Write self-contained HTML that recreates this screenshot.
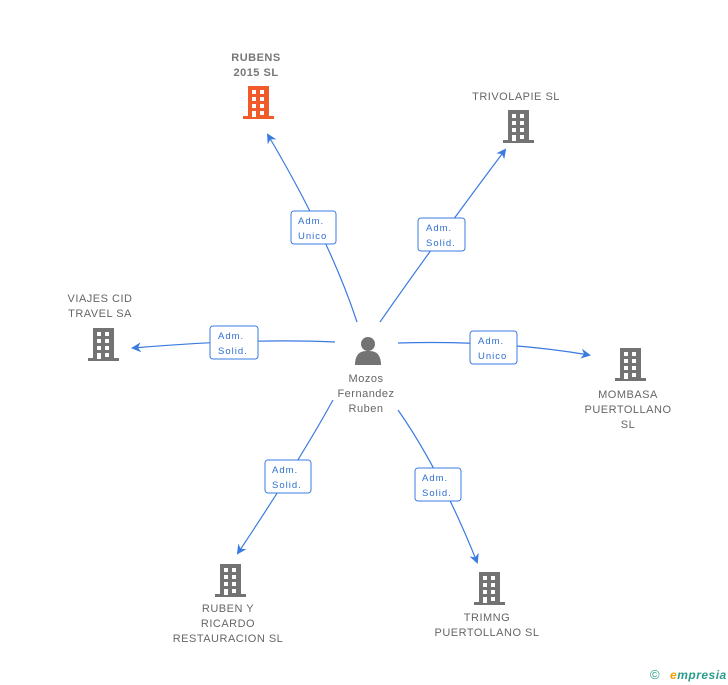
<!DOCTYPE html>
<html><head><meta charset="utf-8"><style>
html,body{margin:0;padding:0;background:#fff;width:728px;height:685px;overflow:hidden}
svg text{font-family:"Liberation Sans",sans-serif;font-size:11px;fill:#666;letter-spacing:0.5px}
.lb text{fill:#2f6fd0;font-size:9.5px;letter-spacing:1px}
</style></head><body>
<svg width="728" height="685" viewBox="0 0 728 685" xmlns="http://www.w3.org/2000/svg">
<defs>
<g id="b">
<rect x="-10" y="-16" width="21" height="31"/>
<rect x="-15" y="14" width="31" height="3"/>
<g fill="#fff">
<rect x="-6" y="-12" width="4" height="4"/><rect x="2" y="-12" width="4" height="4"/>
<rect x="-6" y="-5" width="4" height="4"/><rect x="2" y="-5" width="4" height="4"/>
<rect x="-6" y="2" width="4" height="4"/><rect x="2" y="2" width="4" height="4"/>
<rect x="-6" y="9" width="4" height="6"/><rect x="2" y="9" width="4" height="4"/>
</g>
</g>
<marker id="a" markerWidth="10" markerHeight="10" refX="8" refY="5" orient="auto" markerUnits="userSpaceOnUse">
<path d="M0,0 L10,5 L0,10 L3,5 z" fill="#3a7be0"/></marker>
</defs>
<g fill="none" stroke="#3a7be0" stroke-width="1.2" marker-end="url(#a)">
<path d="M357,322 Q330,240 268,135"/>
<path d="M380,322 Q430,250 505,150"/>
<path d="M335,342 Q250,338 133,348"/>
<path d="M398,343 Q500,340 589,355"/>
<path d="M333,400 Q300,460 238,553"/>
<path d="M398,410 Q440,470 477,562"/>
</g>
<g class="lb" fill="#fff" stroke="#3a7be0" stroke-width="1">
<rect x="291" y="211" width="45" height="33" rx="3"/>
<rect x="418" y="218" width="47" height="33" rx="3"/>
<rect x="210" y="326" width="48" height="33" rx="3"/>
<rect x="470" y="331" width="47" height="33" rx="3"/>
<rect x="265" y="460" width="46" height="33" rx="3"/>
<rect x="415" y="468" width="46" height="33" rx="3"/>
</g>
<g class="lb">
<text x="298" y="224">Adm.</text><text x="298" y="239">Unico</text>
<text x="426" y="231">Adm.</text><text x="426" y="246">Solid.</text>
<text x="218" y="339">Adm.</text><text x="218" y="354">Solid.</text>
<text x="478" y="344">Adm.</text><text x="478" y="359">Unico</text>
<text x="272" y="473">Adm.</text><text x="272" y="488">Solid.</text>
<text x="422" y="481">Adm.</text><text x="422" y="496">Solid.</text>
</g>
<use href="#b" x="258" y="102" fill="#f15a2b"/>
<use href="#b" x="518" y="126" fill="#737373"/>
<use href="#b" x="103" y="344" fill="#737373"/>
<use href="#b" x="630" y="364" fill="#737373"/>
<use href="#b" x="230" y="580" fill="#737373"/>
<use href="#b" x="489" y="588" fill="#737373"/>
<g fill="#737373">
<circle cx="368" cy="344" r="7"/>
<path d="M355,365 Q355,350 368,351 Q381,350 381,365 z"/>
</g>
<g text-anchor="middle">
<text x="256" y="61" style="font-weight:bold;fill:#777">RUBENS</text>
<text x="256" y="76" style="font-weight:bold;fill:#777">2015 SL</text>
<text x="516" y="100">TRIVOLAPIE SL</text>
<text x="100" y="302">VIAJES CID</text><text x="100" y="317">TRAVEL SA</text>
<text x="628" y="398">MOMBASA</text><text x="628" y="413">PUERTOLLANO</text><text x="628" y="428">SL</text>
<text x="366" y="382">Mozos</text><text x="366" y="397">Fernandez</text><text x="366" y="412">Ruben</text>
<text x="228" y="612">RUBEN Y</text><text x="228" y="627">RICARDO</text><text x="228" y="642">RESTAURACION SL</text>
<text x="487" y="621">TRIMNG</text><text x="487" y="636">PUERTOLLANO SL</text>
</g>
<text x="650" y="679" style="fill:#2a9c8a;font-size:13px">©</text>
<text x="670" y="679" style="fill:#2a9c8a;font-size:12px;font-style:italic;font-weight:bold"><tspan fill="#f0a000">e</tspan>mpresia</text>
</svg>
</body></html>
